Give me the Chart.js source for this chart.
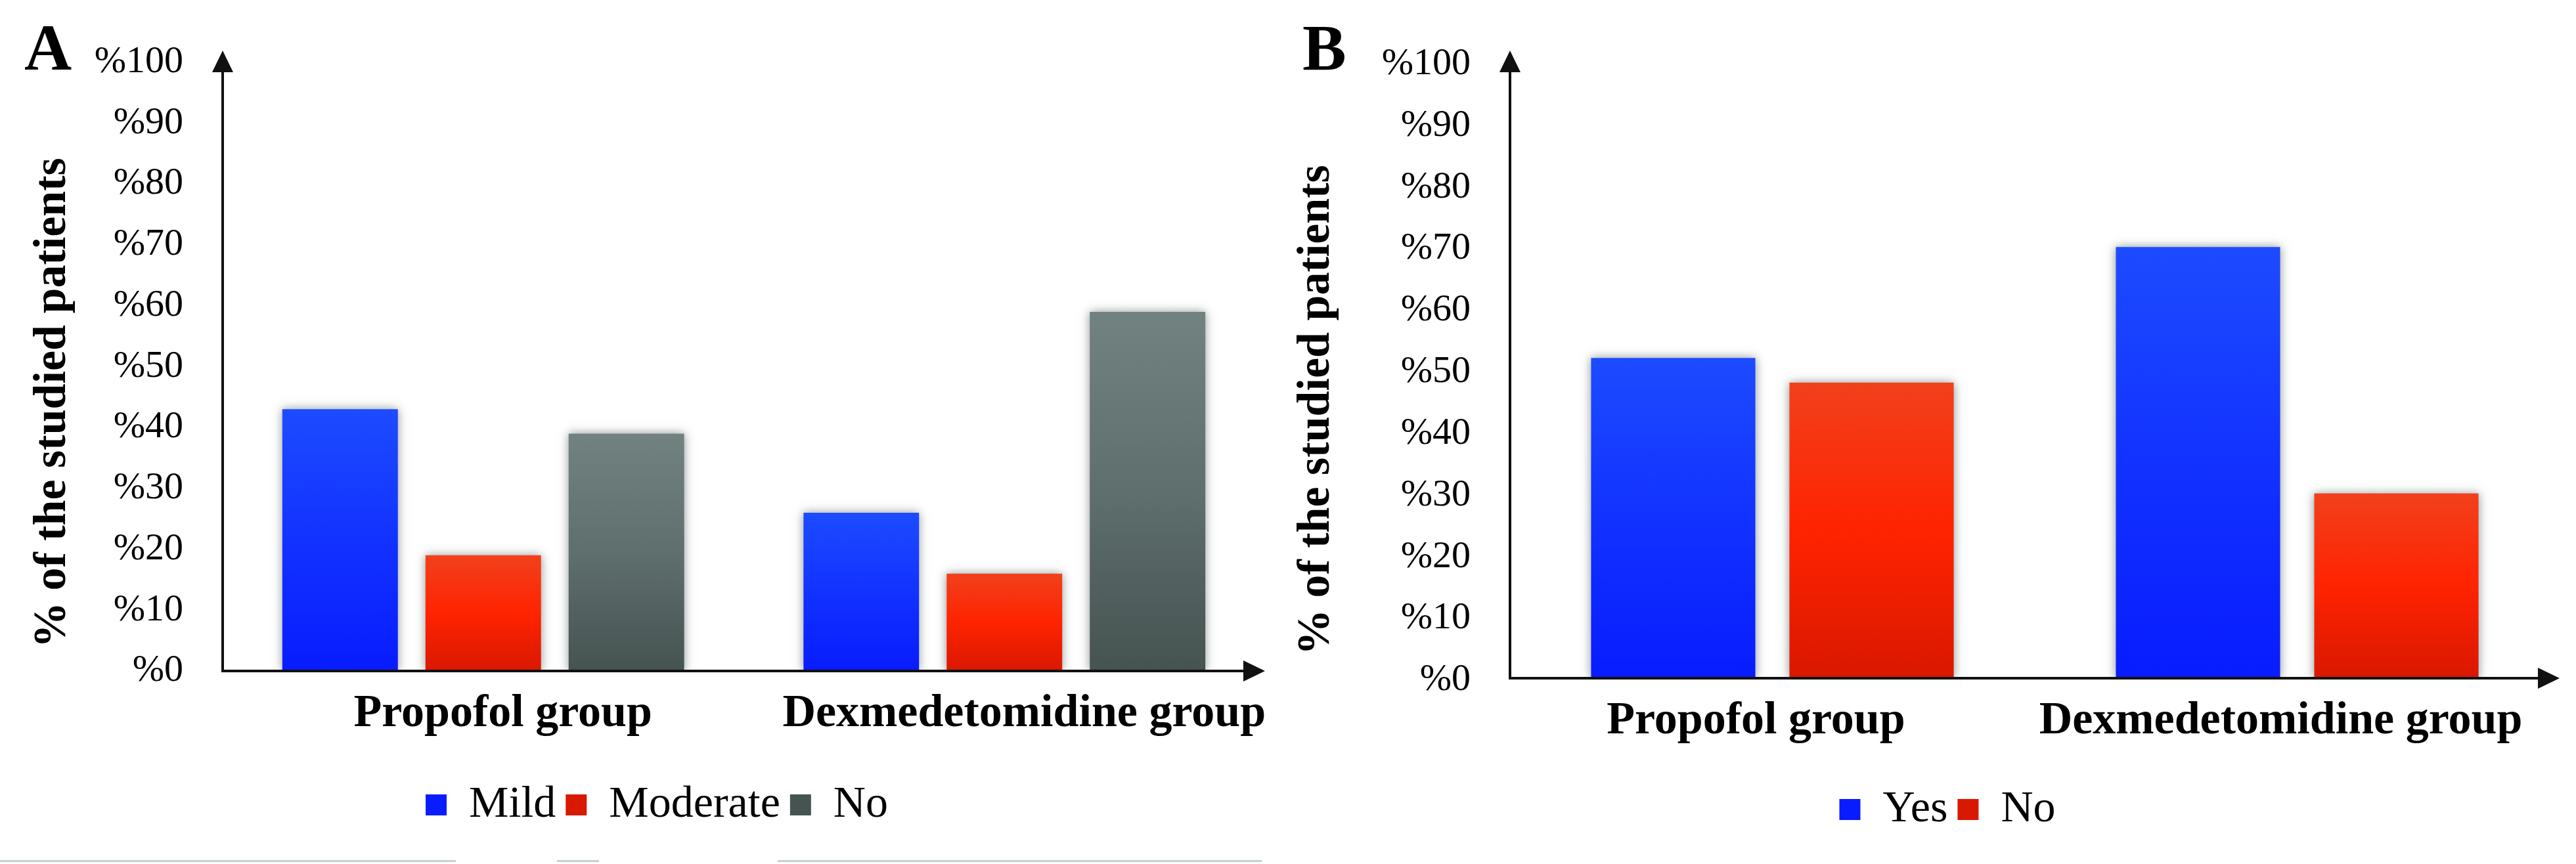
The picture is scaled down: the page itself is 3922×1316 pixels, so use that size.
<!DOCTYPE html>
<html>
<head>
<meta charset="utf-8">
<script src="https://cdn.jsdelivr.net/npm/chart.js@4.4.1/dist/chart.umd.min.js"></script>
<style>
  html, body { margin: 0; padding: 0; background: #fff; overflow: hidden; }
  body { width: 3922px; height: 1316px; position: relative; }
  canvas { position: absolute; top: 0; }
  .tag { position: absolute; top: 23px; font: bold 100px "Liberation Serif", serif; line-height: 1; color: #000; }
  .rule { position: absolute; top: 1310px; height: 3px; background: #c6d1cd; }
</style>
</head>
<body>
<canvas id="panelA" width="2000" height="1316" style="left:0"></canvas>
<canvas id="panelB" width="2050" height="1316" style="left:1940px"></canvas>
<div class="tag" style="left:37px">A</div>
<div class="tag" style="left:1983px">B</div>
<div class="rule" style="left:0;width:694px"></div>
<div class="rule" style="left:848px;width:64px"></div>
<div class="rule" style="left:1184px;width:737px"></div>
<script>
// Two bar panels: sedation severity (A) and yes/no outcome (B), % of patients per group.

const groups = ["Propofol group", "Dexmedetomidine group"];

// panel A
const severity = ["Mild", "Moderate", "No"];
const mildPct = [43, 26];
const moderatePct = [19, 16];
const noSevPct = [39, 59];

// panel B
const outcome = ["Yes", "No"];
const yesPct = [52, 70];
const noPct = [48, 30];

const yMin = 0, yMax = 100, yStep = 10;
const yTitle = "  % of the studied patients";

const SERIF = '"Liberation Serif", "Times New Roman", serif';

// top / mid / bottom of each bar's vertical gradient
const BLUE = ["#1d4bff", "#1232ff", "#081cff"];
const RED = ["#f2401c", "#ff2300", "#d91800"];
const GREY = ["#718281", "#5f6f6d", "#455351"];

function barFill(stops) {
  return (c) => {
    const chart = c.chart;
    if (c.type !== "data" || !chart.chartArea) return stops[1];
    const y = chart.scales.y;
    const top = y.getPixelForValue(c.raw);
    const bot = y.getPixelForValue(0);
    const g = chart.ctx.createLinearGradient(0, top, 0, bot);
    g.addColorStop(0, stops[0]);
    g.addColorStop(0.5, stops[1]);
    g.addColorStop(1, stops[2]);
    return g;
  };
}

// soft shadow round the bars
const barShadow = {
  id: "barShadow",
  beforeDatasetsDraw(chart) {
    const c = chart.ctx;
    c.save();
    c.shadowColor = "rgba(30,45,45,0.5)";
    c.shadowBlur = 14;
  },
  afterDatasetsDraw(chart) { chart.ctx.restore(); },
};

// axis lines with arrow heads
const axisArrows = {
  id: "axisArrows",
  afterDraw(chart, args, opts) {
    const { ctx, chartArea: { left, right, bottom } } = chart;
    const head = 33, half = 16, tipY = opts.tipY;
    ctx.save();
    ctx.strokeStyle = ctx.fillStyle = "#111";
    ctx.lineWidth = 4;
    ctx.beginPath();
    ctx.moveTo(left, bottom + 2);
    ctx.lineTo(left, tipY + head);
    ctx.moveTo(left - 2, bottom);
    ctx.lineTo(right - head, bottom);
    ctx.stroke();
    ctx.beginPath();
    ctx.moveTo(left, tipY);
    ctx.lineTo(left - half, tipY + head);
    ctx.lineTo(left + half, tipY + head);
    ctx.closePath();
    ctx.moveTo(right, bottom);
    ctx.lineTo(right - head, bottom - half);
    ctx.lineTo(right - head, bottom + half);
    ctx.closePath();
    ctx.fill();
    ctx.restore();
  },
};

function drawPanel(id, datasets, p) {
  return new Chart(document.getElementById(id), {
    type: "bar",
    data: { labels: groups, datasets },
    plugins: [barShadow, axisArrows],
    options: {
      responsive: false,
      animation: false,
      layout: { padding: { top: p.top, bottom: p.bottom, left: 0, right: 0 } },
      datasets: { bar: { categoryPercentage: p.cat, barPercentage: p.bar, borderWidth: 0 } },
      plugins: {
        tooltip: { enabled: false },
        axisArrows: { tipY: 77 },
        legend: {
          position: "bottom",
          labels: {
            color: "#000", boxWidth: 32, boxHeight: 32, padding: 15,
            font: { family: SERIF, size: 68 },
          },
        },
      },
      scales: {
        x: {
          grid: { display: false, drawTicks: false },
          border: { display: false },
          ticks: {
            color: "#000", padding: 24, labelOffset: p.xShift, maxRotation: 0, autoSkip: false,
            font: { family: SERIF, size: 70, weight: "bold" },
          },
          afterFit: (s) => { s.height = p.xHeight; },
        },
        y: {
          min: yMin, max: yMax,
          grid: { display: false, drawTicks: false },
          border: { display: false },
          ticks: {
            stepSize: yStep, color: "#000", padding: 60, labelOffset: p.yShift,
            font: { family: SERIF, size: 58 },
            callback: (v) => "%" + v,
          },
          title: {
            display: true, text: yTitle, align: "start", color: "#000",
            padding: { top: p.titlePad, bottom: 0 },
            font: { family: SERIF, size: 70, weight: "bold" },
          },
          afterFit: (s) => { s.width = p.yWidth; },
        },
        // empty spacer on the right so the legend centres like the original
        y2: {
          type: "linear", position: "right",
          grid: { display: false, drawTicks: false },
          border: { display: false },
          ticks: { display: false },
          afterFit: (s) => { s.width = p.rightGap; },
        },
      },
    },
  });
}

drawPanel("panelA", [
  { label: severity[0], data: mildPct, backgroundColor: barFill(BLUE) },
  { label: severity[1], data: moderatePct, backgroundColor: barFill(RED) },
  { label: severity[2], data: noSevPct, backgroundColor: barFill(GREY) },
], { top: 85, bottom: 46, xHeight: 155, yWidth: 339, rightGap: 74, titlePad: 39,
     cat: 0.824, bar: 0.807, xShift: 30, yShift: 0 });

drawPanel("panelB", [
  { label: outcome[0], data: yesPct, backgroundColor: barFill(BLUE) },
  { label: outcome[1], data: noPct, backgroundColor: barFill(RED) },
], { top: 71, bottom: 39, xHeight: 151, yWidth: 359, rightGap: 93, titlePad: 23,
     cat: 0.756, bar: 0.828, xShift: -25, yShift: 3 });
</script>
</body>
</html>
